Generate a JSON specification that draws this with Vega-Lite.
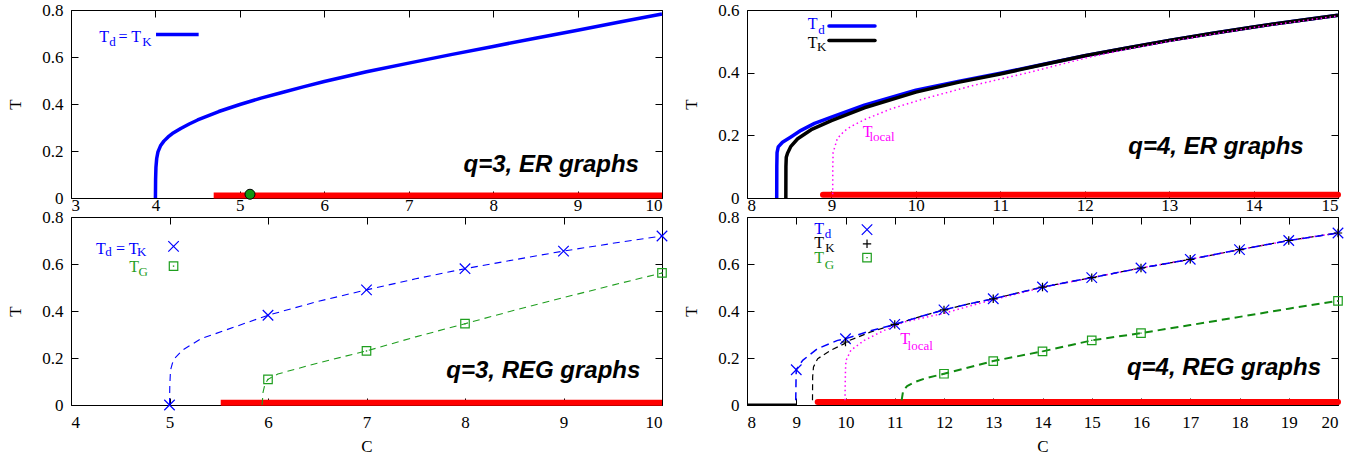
{
"$schema": "https://vega.github.io/schema/vega-lite/v6.json",
"background": "white",
"padding": {"left": 5, "top": 0, "right": 5, "bottom": 0},
"columns": 2,
"spacing": {"row": 19, "column": 85},
"bounds": "flush",
"datasets": {
"A": [
{"k":"bar","s":"red","c":4.69,"T":0.011},{"k":"bar","s":"red","c":10,"T":0.011},
{"k":"curve","s":"TdTK","c":4.0,"T":0},{"k":"curve","s":"TdTK","c":4.002,"T":0.08},{"k":"curve","s":"TdTK","c":4.006,"T":0.13},{"k":"curve","s":"TdTK","c":4.015,"T":0.168},{"k":"curve","s":"TdTK","c":4.03,"T":0.196},{"k":"curve","s":"TdTK","c":4.06,"T":0.222},{"k":"curve","s":"TdTK","c":4.1,"T":0.242},{"k":"curve","s":"TdTK","c":4.15,"T":0.26},{"k":"curve","s":"TdTK","c":4.2,"T":0.274},{"k":"curve","s":"TdTK","c":4.3,"T":0.296},{"k":"curve","s":"TdTK","c":4.4,"T":0.315},{"k":"curve","s":"TdTK","c":4.5,"T":0.332},{"k":"curve","s":"TdTK","c":4.75,"T":0.368},{"k":"curve","s":"TdTK","c":5.0,"T":0.398},{"k":"curve","s":"TdTK","c":5.25,"T":0.425},{"k":"curve","s":"TdTK","c":5.5,"T":0.449},{"k":"curve","s":"TdTK","c":5.75,"T":0.473},{"k":"curve","s":"TdTK","c":6.0,"T":0.496},{"k":"curve","s":"TdTK","c":6.5,"T":0.537},{"k":"curve","s":"TdTK","c":7.0,"T":0.574},{"k":"curve","s":"TdTK","c":7.5,"T":0.61},{"k":"curve","s":"TdTK","c":8.0,"T":0.645},{"k":"curve","s":"TdTK","c":8.5,"T":0.68},{"k":"curve","s":"TdTK","c":9.0,"T":0.714},{"k":"curve","s":"TdTK","c":9.5,"T":0.749},{"k":"curve","s":"TdTK","c":10.0,"T":0.783},
{"k":"leg","s":"Td","c":4.007,"T":0.696},{"k":"leg","s":"Td","c":4.512,"T":0.696},
{"k":"dot","s":"dot","c":5.12,"T":0.016},
{"k":"main","s":"Td","t":"T","c":3.335,"T":0.664},
{"k":"sub","s":"Td","t":"d","c":3.454,"T":0.647},
{"k":"main","s":"Td","t":"= T","c":3.563,"T":0.664},
{"k":"sub","s":"Td","t":"K","c":3.843,"T":0.647},
{"k":"title","s":"ttl","t":"q=3, ER graphs","c":9.727,"T":0.111}
],
"B": [
{"k":"bar","s":"red","c":8.9,"T":0.0105},{"k":"bar","s":"red","c":15,"T":0.0105},
{"k":"curve","s":"Td","c":8.352,"T":0},{"k":"curve","s":"Td","c":8.353,"T":0.1},{"k":"curve","s":"Td","c":8.356,"T":0.145},{"k":"curve","s":"Td","c":8.37,"T":0.163},{"k":"curve","s":"Td","c":8.42,"T":0.178},{"k":"curve","s":"Td","c":8.52,"T":0.195},{"k":"curve","s":"Td","c":8.64,"T":0.216},{"k":"curve","s":"Td","c":8.8,"T":0.238},{"k":"curve","s":"Td","c":9.0,"T":0.258},{"k":"curve","s":"Td","c":9.39,"T":0.296},{"k":"curve","s":"Td","c":10,"T":0.344},{"k":"curve","s":"Td","c":10.5,"T":0.372},{"k":"curve","s":"Td","c":11,"T":0.398},{"k":"curve","s":"Td","c":11.5,"T":0.426},{"k":"curve","s":"Td","c":12,"T":0.454},{"k":"curve","s":"Td","c":12.5,"T":0.479},{"k":"curve","s":"Td","c":13,"T":0.503},{"k":"curve","s":"Td","c":13.5,"T":0.525},{"k":"curve","s":"Td","c":14,"T":0.546},{"k":"curve","s":"Td","c":14.5,"T":0.565},{"k":"curve","s":"Td","c":15,"T":0.583},
{"k":"curve","s":"TK","c":8.46,"T":0},{"k":"curve","s":"TK","c":8.461,"T":0.1},{"k":"curve","s":"TK","c":8.465,"T":0.13},{"k":"curve","s":"TK","c":8.48,"T":0.143},{"k":"curve","s":"TK","c":8.52,"T":0.165},{"k":"curve","s":"TK","c":8.6,"T":0.189},{"k":"curve","s":"TK","c":8.76,"T":0.218},{"k":"curve","s":"TK","c":9.0,"T":0.247},{"k":"curve","s":"TK","c":9.39,"T":0.288},{"k":"curve","s":"TK","c":10,"T":0.338},{"k":"curve","s":"TK","c":10.5,"T":0.369},{"k":"curve","s":"TK","c":11,"T":0.396},{"k":"curve","s":"TK","c":11.5,"T":0.425},{"k":"curve","s":"TK","c":12,"T":0.454},{"k":"curve","s":"TK","c":12.5,"T":0.479},{"k":"curve","s":"TK","c":13,"T":0.503},{"k":"curve","s":"TK","c":13.5,"T":0.525},{"k":"curve","s":"TK","c":14,"T":0.546},{"k":"curve","s":"TK","c":14.5,"T":0.565},{"k":"curve","s":"TK","c":15,"T":0.583},
{"k":"dcurve","s":"Tl","c":9.015,"T":0.012},{"k":"dcurve","s":"Tl","c":9.016,"T":0.1},{"k":"dcurve","s":"Tl","c":9.02,"T":0.145},{"k":"dcurve","s":"Tl","c":9.07,"T":0.19},{"k":"dcurve","s":"Tl","c":9.15,"T":0.213},{"k":"dcurve","s":"Tl","c":9.23,"T":0.228},{"k":"dcurve","s":"Tl","c":9.39,"T":0.25},{"k":"dcurve","s":"Tl","c":9.71,"T":0.285},{"k":"dcurve","s":"Tl","c":10.1,"T":0.317},{"k":"dcurve","s":"Tl","c":10.69,"T":0.36},{"k":"dcurve","s":"Tl","c":11.36,"T":0.402},{"k":"dcurve","s":"Tl","c":12,"T":0.446},{"k":"dcurve","s":"Tl","c":12.5,"T":0.475},{"k":"dcurve","s":"Tl","c":13,"T":0.5},{"k":"dcurve","s":"Tl","c":14,"T":0.544},{"k":"dcurve","s":"Tl","c":15,"T":0.581},
{"k":"leg","s":"Td","c":8.971,"T":0.549},{"k":"leg","s":"Td","c":9.516,"T":0.549},
{"k":"leg","s":"TK","c":8.971,"T":0.503},{"k":"leg","s":"TK","c":9.516,"T":0.503},
{"k":"main","s":"Td","t":"T","c":8.719,"T":0.539},
{"k":"sub","s":"Td","t":"d","c":8.845,"T":0.524},
{"k":"main","s":"TK","t":"T","c":8.719,"T":0.479},
{"k":"sub","s":"TK","t":"K","c":8.83,"T":0.468},
{"k":"main","s":"Tl","t":"T","c":9.37,"T":0.195},
{"k":"sub","s":"Tl","t":"local","c":9.45,"T":0.181},
{"k":"title","s":"ttl","t":"q=4, ER graphs","c":14.594,"T":0.141}
],
"C": [
{"k":"bar","s":"red","c":5.52,"T":0.01},{"k":"bar","s":"red","c":10,"T":0.01},
{"k":"curve","s":"TdTK","c":5.0,"T":0},{"k":"curve","s":"TdTK","c":5.003,"T":0.08},{"k":"curve","s":"TdTK","c":5.01,"T":0.148},{"k":"curve","s":"TdTK","c":5.03,"T":0.178},{"k":"curve","s":"TdTK","c":5.05,"T":0.197},{"k":"curve","s":"TdTK","c":5.13,"T":0.233},{"k":"curve","s":"TdTK","c":5.32,"T":0.282},{"k":"curve","s":"TdTK","c":5.66,"T":0.332},{"k":"curve","s":"TdTK","c":6,"T":0.382},{"k":"curve","s":"TdTK","c":6.5,"T":0.44},{"k":"curve","s":"TdTK","c":7,"T":0.49},{"k":"curve","s":"TdTK","c":7.5,"T":0.537},{"k":"curve","s":"TdTK","c":8,"T":0.58},{"k":"curve","s":"TdTK","c":8.5,"T":0.618},{"k":"curve","s":"TdTK","c":9,"T":0.655},{"k":"curve","s":"TdTK","c":9.5,"T":0.688},{"k":"curve","s":"TdTK","c":10,"T":0.719},
{"k":"curve","s":"TG","c":5.94,"T":0},{"k":"curve","s":"TG","c":5.95,"T":0.055},{"k":"curve","s":"TG","c":5.97,"T":0.09},{"k":"curve","s":"TG","c":6,"T":0.109},{"k":"curve","s":"TG","c":6.1,"T":0.132},{"k":"curve","s":"TG","c":6.5,"T":0.178},{"k":"curve","s":"TG","c":7,"T":0.23},{"k":"curve","s":"TG","c":7.5,"T":0.29},{"k":"curve","s":"TG","c":8,"T":0.346},{"k":"curve","s":"TG","c":8.5,"T":0.403},{"k":"curve","s":"TG","c":9,"T":0.457},{"k":"curve","s":"TG","c":9.5,"T":0.51},{"k":"curve","s":"TG","c":10,"T":0.562},
{"k":"pt","s":"TdTK","c":5,"T":0},{"k":"pt","s":"TdTK","c":6,"T":0.382},{"k":"pt","s":"TdTK","c":7,"T":0.49},{"k":"pt","s":"TdTK","c":8,"T":0.58},{"k":"pt","s":"TdTK","c":9,"T":0.655},{"k":"pt","s":"TdTK","c":10,"T":0.719},
{"k":"pt","s":"TG","c":6,"T":0.109},{"k":"pt","s":"TG","c":7,"T":0.23},{"k":"pt","s":"TG","c":8,"T":0.346},{"k":"pt","s":"TG","c":10,"T":0.562},
{"k":"pt","s":"Td","c":5.041,"T":0.675},{"k":"pt","s":"TG","c":5.041,"T":0.591},
{"k":"main","s":"Td","t":"T","c":4.2535,"T":0.644},
{"k":"sub","s":"Td","t":"d","c":4.348,"T":0.632},
{"k":"main","s":"Td","t":"= T","c":4.456,"T":0.644},
{"k":"sub","s":"Td","t":"K","c":4.669,"T":0.632},
{"k":"main","s":"TG","t":"T","c":4.591,"T":0.566},
{"k":"sub","s":"TG","t":"G","c":4.686,"T":0.548},
{"k":"title","s":"ttl","t":"q=3, REG graphs","c":9.78,"T":0.116}
],
"D": [
{"k":"bar","s":"red","c":9.435,"T":0.013},{"k":"bar","s":"red","c":20,"T":0.013},
{"k":"zero","s":"TK","c":8,"T":0.002},{"k":"zero","s":"TK","c":9,"T":0.002},
{"k":"curve","s":"Td","c":8.99,"T":0.02},{"k":"curve","s":"Td","c":8.995,"T":0.1},{"k":"curve","s":"Td","c":9.0,"T":0.15},{"k":"curve","s":"Td","c":9.13,"T":0.19},{"k":"curve","s":"Td","c":9.435,"T":0.24},{"k":"curve","s":"Td","c":9.84,"T":0.275},{"k":"curve","s":"Td","c":10,"T":0.282},{"k":"curve","s":"Td","c":10.5,"T":0.315},{"k":"curve","s":"Td","c":11,"T":0.343},{"k":"curve","s":"Td","c":11.5,"T":0.375},{"k":"curve","s":"Td","c":12,"T":0.405},{"k":"curve","s":"Td","c":12.5,"T":0.43},{"k":"curve","s":"Td","c":13,"T":0.452},{"k":"curve","s":"Td","c":14,"T":0.502},{"k":"curve","s":"Td","c":15,"T":0.542},{"k":"curve","s":"Td","c":16,"T":0.583},{"k":"curve","s":"Td","c":17,"T":0.62},{"k":"curve","s":"Td","c":18,"T":0.661},{"k":"curve","s":"Td","c":19,"T":0.7},{"k":"curve","s":"Td","c":20,"T":0.732},
{"k":"curve","s":"TK","c":9.33,"T":0.02},{"k":"curve","s":"TK","c":9.333,"T":0.12},{"k":"curve","s":"TK","c":9.35,"T":0.162},{"k":"curve","s":"TK","c":9.435,"T":0.197},{"k":"curve","s":"TK","c":9.7,"T":0.233},{"k":"curve","s":"TK","c":9.98,"T":0.261},{"k":"curve","s":"TK","c":10,"T":0.268},{"k":"curve","s":"TK","c":10.5,"T":0.31},{"k":"curve","s":"TK","c":11,"T":0.343},{"k":"curve","s":"TK","c":11.5,"T":0.375},{"k":"curve","s":"TK","c":12,"T":0.405},{"k":"curve","s":"TK","c":12.5,"T":0.43},{"k":"curve","s":"TK","c":13,"T":0.452},{"k":"curve","s":"TK","c":14,"T":0.502},{"k":"curve","s":"TK","c":15,"T":0.542},{"k":"curve","s":"TK","c":16,"T":0.583},{"k":"curve","s":"TK","c":17,"T":0.62},{"k":"curve","s":"TK","c":18,"T":0.661},{"k":"curve","s":"TK","c":19,"T":0.7},{"k":"curve","s":"TK","c":20,"T":0.732},
{"k":"curve","s":"TG","c":11.14,"T":0.02},{"k":"curve","s":"TG","c":11.17,"T":0.06},{"k":"curve","s":"TG","c":11.25,"T":0.08},{"k":"curve","s":"TG","c":11.4,"T":0.097},{"k":"curve","s":"TG","c":11.6,"T":0.112},{"k":"curve","s":"TG","c":12,"T":0.133},{"k":"curve","s":"TG","c":13,"T":0.187},{"k":"curve","s":"TG","c":14,"T":0.228},{"k":"curve","s":"TG","c":15,"T":0.275},{"k":"curve","s":"TG","c":16,"T":0.306},{"k":"curve","s":"TG","c":17,"T":0.34},{"k":"curve","s":"TG","c":18,"T":0.375},{"k":"curve","s":"TG","c":19,"T":0.41},{"k":"curve","s":"TG","c":20,"T":0.443},
{"k":"dcurve","s":"Tl","c":9.99,"T":0.02},{"k":"dcurve","s":"Tl","c":9.995,"T":0.1},{"k":"dcurve","s":"Tl","c":10.0,"T":0.15},{"k":"dcurve","s":"Tl","c":10.01,"T":0.19},{"k":"dcurve","s":"Tl","c":10.11,"T":0.233},{"k":"dcurve","s":"Tl","c":10.38,"T":0.275},{"k":"dcurve","s":"Tl","c":10.79,"T":0.318},{"k":"dcurve","s":"Tl","c":11.19,"T":0.353},{"k":"dcurve","s":"Tl","c":11.6,"T":0.372},{"k":"dcurve","s":"Tl","c":12,"T":0.39},{"k":"dcurve","s":"Tl","c":12.5,"T":0.42},{"k":"dcurve","s":"Tl","c":13,"T":0.448},{"k":"dcurve","s":"Tl","c":14,"T":0.5},{"k":"dcurve","s":"Tl","c":15,"T":0.542},{"k":"dcurve","s":"Tl","c":16,"T":0.583},{"k":"dcurve","s":"Tl","c":17,"T":0.62},{"k":"dcurve","s":"Tl","c":18,"T":0.661},{"k":"dcurve","s":"Tl","c":19,"T":0.7},{"k":"dcurve","s":"Tl","c":20,"T":0.732},
{"k":"pt","s":"Td","c":9,"T":0.15},{"k":"pt","s":"Td","c":10,"T":0.282},{"k":"pt","s":"Td","c":11,"T":0.343},{"k":"pt","s":"Td","c":12,"T":0.405},{"k":"pt","s":"Td","c":13,"T":0.452},{"k":"pt","s":"Td","c":14,"T":0.502},{"k":"pt","s":"Td","c":15,"T":0.542},{"k":"pt","s":"Td","c":16,"T":0.583},{"k":"pt","s":"Td","c":17,"T":0.62},{"k":"pt","s":"Td","c":18,"T":0.661},{"k":"pt","s":"Td","c":19,"T":0.7},{"k":"pt","s":"Td","c":20,"T":0.732},
{"k":"pt","s":"TK","c":10,"T":0.268},{"k":"pt","s":"TK","c":11,"T":0.343},{"k":"pt","s":"TK","c":12,"T":0.405},{"k":"pt","s":"TK","c":13,"T":0.452},{"k":"pt","s":"TK","c":14,"T":0.502},{"k":"pt","s":"TK","c":15,"T":0.542},{"k":"pt","s":"TK","c":16,"T":0.583},{"k":"pt","s":"TK","c":17,"T":0.62},{"k":"pt","s":"TK","c":18,"T":0.661},{"k":"pt","s":"TK","c":19,"T":0.7},{"k":"pt","s":"TK","c":20,"T":0.732},
{"k":"pt","s":"TG","c":12,"T":0.133},{"k":"pt","s":"TG","c":13,"T":0.187},{"k":"pt","s":"TG","c":14,"T":0.228},{"k":"pt","s":"TG","c":15,"T":0.275},{"k":"pt","s":"TG","c":16,"T":0.306},{"k":"pt","s":"TG","c":20,"T":0.443},
{"k":"pt","s":"Td","c":10.437,"T":0.746},{"k":"pt","s":"TK","c":10.437,"T":0.686},{"k":"pt","s":"TG","c":10.437,"T":0.627},
{"k":"main","s":"Td","t":"T","c":9.367,"T":0.729},
{"k":"sub","s":"Td","t":"d","c":9.58,"T":0.712},
{"k":"main","s":"TK","t":"T","c":9.367,"T":0.669},
{"k":"sub","s":"TK","t":"K","c":9.59,"T":0.65},
{"k":"main","s":"TG","t":"T","c":9.367,"T":0.604},
{"k":"sub","s":"TG","t":"G","c":9.58,"T":0.58},
{"k":"main","s":"Tl","t":"T","c":11.113,"T":0.261},
{"k":"sub","s":"Tl","t":"local","c":11.26,"T":0.233},
{"k":"title","s":"ttl","t":"q=4, REG graphs","c":19.655,"T":0.126}
]
},
"concat": [
{
"width": 591, "height": 188,
"data": {"name": "A"},
"encoding": {
"x": {"field": "c", "type": "quantitative", "scale": {"domain": [3, 10], "nice": false, "zero": false}, "axis": null},
"y": {"field": "T", "type": "quantitative", "scale": {"domain": [0, 0.8], "nice": false, "zero": false}, "axis": null}
},
"layer": [
{"transform": [{"filter": "datum.k=='bar'"}], "mark": {"type": "line", "color": "#ff0000", "strokeWidth": 6},
"encoding": {
"x": {"field": "c", "type": "quantitative", "scale": {"domain": [3, 10], "nice": false, "zero": false}, "axis": {"orient": "bottom", "values": [3,4,5,6,7,8,9,10], "title": null, "tickSize": -7, "labelPadding": 19, "labelBaseline": "alphabetic"}},
"y": {"field": "T", "type": "quantitative", "scale": {"domain": [0, 0.8], "nice": false, "zero": false}, "axis": {"orient": "left", "values": [0,0.2,0.4,0.6,0.8], "format": "~g", "title": "T", "tickSize": -7, "labelPadding": 15, "titleX": -51, "titleY": 94, "titleAngle": 270, "titleBaseline": "alphabetic"}}}},
{"transform": [{"filter": "datum.k=='curve'"}], "mark": {"type": "line", "strokeWidth": 3.5},
"encoding": {
"x": {"field": "c", "type": "quantitative", "scale": {"domain": [3, 10], "nice": false, "zero": false}, "axis": {"orient": "top", "values": [3,4,5,6,7,8,9,10], "labels": false, "title": null, "tickSize": -7}},
"y": {"field": "T", "type": "quantitative", "scale": {"domain": [0, 0.8], "nice": false, "zero": false}, "axis": {"orient": "right", "values": [0,0.2,0.4,0.6,0.8], "labels": false, "title": null, "tickSize": -7}},
"color": {"field": "s", "type": "nominal", "legend": null, "scale": {"domain": ["Td","TK","TG","Tl","TdTK"], "range": ["#0000ff","#000000","#1e9e1e","#ff00ff","#0000ff"]}}}},
{"transform": [{"filter": "datum.k=='leg'"}], "mark": {"type": "line", "strokeWidth": 3.5},
"encoding": {"color": {"field": "s", "type": "nominal", "legend": null, "scale": {"domain": ["Td","TK","TG","Tl","TdTK"], "range": ["#0000ff","#000000","#1e9e1e","#ff00ff","#0000ff"]}}}},
{"transform": [{"filter": "datum.k=='dot'"}], "mark": {"type": "point", "filled": true, "fill": "#129612", "stroke": "#000000", "strokeWidth": 1, "size": 100, "opacity": 1}},
{"transform": [{"filter": "datum.k=='main'"}], "mark": {"type": "text", "font": "Liberation Serif", "fontSize": 16, "align": "left", "baseline": "alphabetic"},
"encoding": {"text": {"field": "t"}, "color": {"field": "s", "type": "nominal", "legend": null, "scale": {"domain": ["Td","TK","TG","Tl","TdTK"], "range": ["#0000ff","#000000","#1e9e1e","#ff00ff","#0000ff"]}}}},
{"transform": [{"filter": "datum.k=='sub'"}], "mark": {"type": "text", "font": "Liberation Serif", "fontSize": 13, "align": "left", "baseline": "alphabetic"},
"encoding": {"text": {"field": "t"}, "color": {"field": "s", "type": "nominal", "legend": null, "scale": {"domain": ["Td","TK","TG","Tl","TdTK"], "range": ["#0000ff","#000000","#1e9e1e","#ff00ff","#0000ff"]}}}},
{"transform": [{"filter": "datum.k=='title'"}], "mark": {"type": "text", "font": "Liberation Sans", "fontSize": 24, "fontWeight": "bold", "fontStyle": "italic", "align": "right", "baseline": "alphabetic", "color": "#000000"},
"encoding": {"text": {"field": "t"}}}
],
"resolve": {"axis": {"x": "independent", "y": "independent"}}
},
{
"width": 591, "height": 188,
"data": {"name": "B"},
"encoding": {
"x": {"field": "c", "type": "quantitative", "scale": {"domain": [8, 15], "nice": false, "zero": false}, "axis": null},
"y": {"field": "T", "type": "quantitative", "scale": {"domain": [0, 0.6], "nice": false, "zero": false}, "axis": null}
},
"layer": [
{"transform": [{"filter": "datum.k=='bar'"}], "mark": {"type": "line", "color": "#ff0000", "strokeWidth": 6, "strokeCap": "round"},
"encoding": {
"x": {"field": "c", "type": "quantitative", "scale": {"domain": [8, 15], "nice": false, "zero": false}, "axis": {"orient": "bottom", "values": [8,9,10,11,12,13,14,15], "title": null, "tickSize": -7, "labelPadding": 19, "labelBaseline": "alphabetic"}},
"y": {"field": "T", "type": "quantitative", "scale": {"domain": [0, 0.6], "nice": false, "zero": false}, "axis": {"orient": "left", "values": [0,0.2,0.4,0.6], "format": "~g", "title": "T", "tickSize": -7, "labelPadding": 15, "titleX": -51, "titleY": 94, "titleAngle": 270, "titleBaseline": "alphabetic"}}}},
{"transform": [{"filter": "datum.k=='curve'"}], "mark": {"type": "line", "strokeWidth": 3.5},
"encoding": {
"x": {"field": "c", "type": "quantitative", "scale": {"domain": [8, 15], "nice": false, "zero": false}, "axis": {"orient": "top", "values": [8,9,10,11,12,13,14,15], "labels": false, "title": null, "tickSize": -7}},
"y": {"field": "T", "type": "quantitative", "scale": {"domain": [0, 0.6], "nice": false, "zero": false}, "axis": {"orient": "right", "values": [0,0.2,0.4,0.6], "labels": false, "title": null, "tickSize": -7}},
"color": {"field": "s", "type": "nominal", "legend": null, "scale": {"domain": ["Td","TK","TG","Tl","TdTK"], "range": ["#0000ff","#000000","#1e9e1e","#ff00ff","#0000ff"]}}}},
{"transform": [{"filter": "datum.k=='dcurve'"}], "mark": {"type": "line", "strokeWidth": 1.5, "strokeDash": [1.5, 3], "color": "#ff00ff"}},
{"transform": [{"filter": "datum.k=='leg'"}], "mark": {"type": "line", "strokeWidth": 3.5, "strokeCap": "round"},
"encoding": {"color": {"field": "s", "type": "nominal", "legend": null, "scale": {"domain": ["Td","TK","TG","Tl","TdTK"], "range": ["#0000ff","#000000","#1e9e1e","#ff00ff","#0000ff"]}}}},
{"transform": [{"filter": "datum.k=='main'"}], "mark": {"type": "text", "font": "Liberation Serif", "fontSize": 16, "align": "left", "baseline": "alphabetic"},
"encoding": {"text": {"field": "t"}, "color": {"field": "s", "type": "nominal", "legend": null, "scale": {"domain": ["Td","TK","TG","Tl","TdTK"], "range": ["#0000ff","#000000","#1e9e1e","#ff00ff","#0000ff"]}}}},
{"transform": [{"filter": "datum.k=='sub'"}], "mark": {"type": "text", "font": "Liberation Serif", "fontSize": 13, "align": "left", "baseline": "alphabetic"},
"encoding": {"text": {"field": "t"}, "color": {"field": "s", "type": "nominal", "legend": null, "scale": {"domain": ["Td","TK","TG","Tl","TdTK"], "range": ["#0000ff","#000000","#1e9e1e","#ff00ff","#0000ff"]}}}},
{"transform": [{"filter": "datum.k=='title'"}], "mark": {"type": "text", "font": "Liberation Sans", "fontSize": 24, "fontWeight": "bold", "fontStyle": "italic", "align": "right", "baseline": "alphabetic", "color": "#000000"},
"encoding": {"text": {"field": "t"}}}
],
"resolve": {"axis": {"x": "independent", "y": "independent"}}
},
{
"width": 591, "height": 188,
"data": {"name": "C"},
"encoding": {
"x": {"field": "c", "type": "quantitative", "scale": {"domain": [4, 10], "nice": false, "zero": false}, "axis": null},
"y": {"field": "T", "type": "quantitative", "scale": {"domain": [0, 0.8], "nice": false, "zero": false}, "axis": null}
},
"layer": [
{"transform": [{"filter": "datum.k=='bar'"}], "mark": {"type": "line", "color": "#ff0000", "strokeWidth": 6},
"encoding": {
"x": {"field": "c", "type": "quantitative", "scale": {"domain": [4, 10], "nice": false, "zero": false}, "axis": {"orient": "bottom", "values": [4,5,6,7,8,9,10], "title": "C", "titleY": 46, "titleBaseline": "alphabetic", "tickSize": -7, "labelPadding": 29, "labelBaseline": "alphabetic"}},
"y": {"field": "T", "type": "quantitative", "scale": {"domain": [0, 0.8], "nice": false, "zero": false}, "axis": {"orient": "left", "values": [0,0.2,0.4,0.6,0.8], "format": "~g", "title": "T", "tickSize": -7, "labelPadding": 15, "titleX": -51, "titleY": 94, "titleAngle": 270, "titleBaseline": "alphabetic"}}}},
{"transform": [{"filter": "datum.k=='curve'"}], "mark": {"type": "line", "strokeWidth": 1.1, "strokeDash": [7, 5]},
"encoding": {
"x": {"field": "c", "type": "quantitative", "scale": {"domain": [4, 10], "nice": false, "zero": false}, "axis": {"orient": "top", "values": [4,5,6,7,8,9,10], "labels": false, "title": null, "tickSize": -7}},
"y": {"field": "T", "type": "quantitative", "scale": {"domain": [0, 0.8], "nice": false, "zero": false}, "axis": {"orient": "right", "values": [0,0.2,0.4,0.6,0.8], "labels": false, "title": null, "tickSize": -7}},
"color": {"field": "s", "type": "nominal", "legend": null, "scale": {"domain": ["Td","TK","TG","Tl","TdTK"], "range": ["#0000ff","#000000","#1e9e1e","#ff00ff","#0000ff"]}}}},
{"transform": [{"filter": "datum.k=='pt' && (datum.s=='Td' || datum.s=='TdTK')"}], "mark": {"type": "point", "shape": "M-1,-1L1,1M-1,1L1,-1", "filled": false, "size": 110, "strokeWidth": 1.2, "opacity": 1, "color": "#0000ff"}},
{"transform": [{"filter": "datum.k=='pt' && datum.s=='TG'"}], "mark": {"type": "point", "shape": "square", "filled": false, "size": 72, "strokeWidth": 1.2, "opacity": 1, "color": "#1e9e1e"}},
{"transform": [{"filter": "datum.k=='pt' && datum.s=='TG'"}], "mark": {"type": "point", "shape": "square", "filled": true, "size": 2, "opacity": 1, "color": "#1e9e1e"}},
{"transform": [{"filter": "datum.k=='main'"}], "mark": {"type": "text", "font": "Liberation Serif", "fontSize": 16, "align": "left", "baseline": "alphabetic"},
"encoding": {"text": {"field": "t"}, "color": {"field": "s", "type": "nominal", "legend": null, "scale": {"domain": ["Td","TK","TG","Tl","TdTK"], "range": ["#0000ff","#000000","#1e9e1e","#ff00ff","#0000ff"]}}}},
{"transform": [{"filter": "datum.k=='sub'"}], "mark": {"type": "text", "font": "Liberation Serif", "fontSize": 13, "align": "left", "baseline": "alphabetic"},
"encoding": {"text": {"field": "t"}, "color": {"field": "s", "type": "nominal", "legend": null, "scale": {"domain": ["Td","TK","TG","Tl","TdTK"], "range": ["#0000ff","#000000","#1e9e1e","#ff00ff","#0000ff"]}}}},
{"transform": [{"filter": "datum.k=='title'"}], "mark": {"type": "text", "font": "Liberation Sans", "fontSize": 24, "fontWeight": "bold", "fontStyle": "italic", "align": "right", "baseline": "alphabetic", "color": "#000000"},
"encoding": {"text": {"field": "t"}}}
],
"resolve": {"axis": {"x": "independent", "y": "independent"}}
},
{
"width": 591, "height": 188,
"data": {"name": "D"},
"encoding": {
"x": {"field": "c", "type": "quantitative", "scale": {"domain": [8, 20], "nice": false, "zero": false}, "axis": null},
"y": {"field": "T", "type": "quantitative", "scale": {"domain": [0, 0.8], "nice": false, "zero": false}, "axis": null}
},
"layer": [
{"transform": [{"filter": "datum.k=='bar'"}], "mark": {"type": "line", "color": "#ff0000", "strokeWidth": 6, "strokeCap": "round"},
"encoding": {
"x": {"field": "c", "type": "quantitative", "scale": {"domain": [8, 20], "nice": false, "zero": false}, "axis": {"orient": "bottom", "values": [8,9,10,11,12,13,14,15,16,17,18,19,20], "title": "C", "titleY": 46, "titleBaseline": "alphabetic", "tickSize": -7, "labelPadding": 29, "labelBaseline": "alphabetic"}},
"y": {"field": "T", "type": "quantitative", "scale": {"domain": [0, 0.8], "nice": false, "zero": false}, "axis": {"orient": "left", "values": [0,0.2,0.4,0.6,0.8], "format": "~g", "title": "T", "tickSize": -7, "labelPadding": 15, "titleX": -51, "titleY": 94, "titleAngle": 270, "titleBaseline": "alphabetic"}}}},
{"transform": [{"filter": "datum.k=='zero'"}], "mark": {"type": "line", "color": "#000000", "strokeWidth": 2},
"encoding": {
"x": {"field": "c", "type": "quantitative", "scale": {"domain": [8, 20], "nice": false, "zero": false}, "axis": {"orient": "top", "values": [8,9,10,11,12,13,14,15,16,17,18,19,20], "labels": false, "title": null, "tickSize": -7}},
"y": {"field": "T", "type": "quantitative", "scale": {"domain": [0, 0.8], "nice": false, "zero": false}, "axis": {"orient": "right", "values": [0,0.2,0.4,0.6,0.8], "labels": false, "title": null, "tickSize": -7}}}},
{"transform": [{"filter": "datum.k=='curve' && datum.s=='TG'"}], "mark": {"type": "line", "strokeWidth": 2, "strokeDash": [8, 5], "color": "#108a10"}},
{"transform": [{"filter": "datum.k=='curve' && datum.s=='TK'"}], "mark": {"type": "line", "strokeWidth": 1.2, "strokeDash": [6, 4], "color": "#000000"}},
{"transform": [{"filter": "datum.k=='dcurve'"}], "mark": {"type": "line", "strokeWidth": 1.5, "strokeDash": [1.5, 3], "color": "#ff00ff"}},
{"transform": [{"filter": "datum.k=='curve' && datum.s=='Td'"}], "mark": {"type": "line", "strokeWidth": 1.5, "strokeDash": [8, 5], "color": "#0000ff"}},
{"transform": [{"filter": "datum.k=='pt' && datum.s=='Td'"}], "mark": {"type": "point", "shape": "M-1,-1L1,1M-1,1L1,-1", "filled": false, "size": 110, "strokeWidth": 1.2, "opacity": 1, "color": "#0000ff"}},
{"transform": [{"filter": "datum.k=='pt' && datum.s=='TK'"}], "mark": {"type": "point", "shape": "M-1,0L1,0M0,-1L0,1", "filled": false, "size": 70, "strokeWidth": 1.2, "opacity": 1, "color": "#000000"}},
{"transform": [{"filter": "datum.k=='pt' && datum.s=='TG'"}], "mark": {"type": "point", "shape": "square", "filled": false, "size": 72, "strokeWidth": 1.2, "opacity": 1, "color": "#1e9e1e"}},
{"transform": [{"filter": "datum.k=='pt' && datum.s=='TG'"}], "mark": {"type": "point", "shape": "square", "filled": true, "size": 2, "opacity": 1, "color": "#1e9e1e"}},
{"transform": [{"filter": "datum.k=='main'"}], "mark": {"type": "text", "font": "Liberation Serif", "fontSize": 16, "align": "left", "baseline": "alphabetic"},
"encoding": {"text": {"field": "t"}, "color": {"field": "s", "type": "nominal", "legend": null, "scale": {"domain": ["Td","TK","TG","Tl","TdTK"], "range": ["#0000ff","#000000","#1e9e1e","#ff00ff","#0000ff"]}}}},
{"transform": [{"filter": "datum.k=='sub'"}], "mark": {"type": "text", "font": "Liberation Serif", "fontSize": 13, "align": "left", "baseline": "alphabetic"},
"encoding": {"text": {"field": "t"}, "color": {"field": "s", "type": "nominal", "legend": null, "scale": {"domain": ["Td","TK","TG","Tl","TdTK"], "range": ["#0000ff","#000000","#1e9e1e","#ff00ff","#0000ff"]}}}},
{"transform": [{"filter": "datum.k=='title'"}], "mark": {"type": "text", "font": "Liberation Sans", "fontSize": 24, "fontWeight": "bold", "fontStyle": "italic", "align": "right", "baseline": "alphabetic", "color": "#000000"},
"encoding": {"text": {"field": "t"}}}
],
"resolve": {"axis": {"x": "independent", "y": "independent"}}
}
],
"config": {
"view": {"stroke": "#000000", "strokeWidth": 1},
"axis": {"domain": false, "grid": false, "tickColor": "#000000", "tickWidth": 1, "labelFont": "Liberation Serif", "labelFontSize": 17, "labelColor": "#000000", "titleFont": "Liberation Serif", "titleFontSize": 17, "titleFontWeight": "normal", "titleColor": "#000000"},
"line": {"strokeJoin": "round"}
}
}
